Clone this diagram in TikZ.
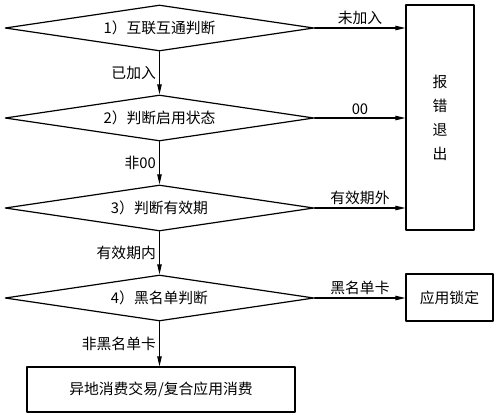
\documentclass[tikz,border=0pt]{standalone}
\usepackage{fontspec}
\setmainfont{Noto Sans CJK SC}
\usetikzlibrary{shapes.geometric,arrows.meta}
\begin{document}
\begin{tikzpicture}[x=0.5pt, y=-0.5pt, line cap=round, line join=round,
    font=\fontsize{7.4}{9}\selectfont,
    test/.style={diamond, draw, line width=0.6pt, inner sep=0pt, shape aspect=7,
      minimum width=154.5pt, minimum height=23pt},
    endbox/.style={rectangle, draw, line width=0.6pt, inner sep=0pt},
    flow/.style={line width=0.6pt, -{Triangle[length=5pt, width=2.2pt]}},
    lbl/.style={inner sep=1.5pt}]
  \useasboundingbox (0,0) rectangle (500,414);
  \node[test] (D1) at (159.5,28) {1）互联互通判断};
  \node[test] (D2) at (159.5,118) {2）判断启用状态};
  \node[test] (D3) at (159.5,208) {3）判断有效期};
  \node[test] (D4) at (159.5,298) {4）黑名单判断};
  \node[endbox, minimum width=34pt, minimum height=112.5pt, align=center,
    font=\fontsize{7.4}{12}\selectfont] (Err) at (440,117.5) {报\\错\\退\\出};
  \node[endbox, minimum width=43.5pt, minimum height=23.5pt] (Lock) at (449.5,297.5) {应用锁定};
  \node[endbox, minimum width=134pt, minimum height=22.5pt] (Pay) at (161,389.5) {异地消费交易/复合应用消费};
  \draw[flow] (D1.east) -- node[lbl, above] {未加入} (D1.east -| Err.west);
  \draw[flow] (D2.east) -- node[lbl, above] {00} (D2.east -| Err.west);
  \draw[flow] (D3.east) -- node[lbl, above] {有效期外} (D3.east -| Err.west);
  \draw[flow] (D4.east) -- node[lbl, above] {黑名单卡} (D4.east -| Lock.west);
  \draw[flow] (D1.south) -- node[lbl, left] {已加入} (D2.north);
  \draw[flow] (D2.south) -- node[lbl, left] {非00} (D3.north);
  \draw[flow] (D3.south) -- node[lbl, left] {有效期内} (D4.north);
  \draw[flow] (D4.south) -- node[lbl, left] {非黑名单卡} (D4.south |- Pay.north);
\end{tikzpicture}
\end{document}
